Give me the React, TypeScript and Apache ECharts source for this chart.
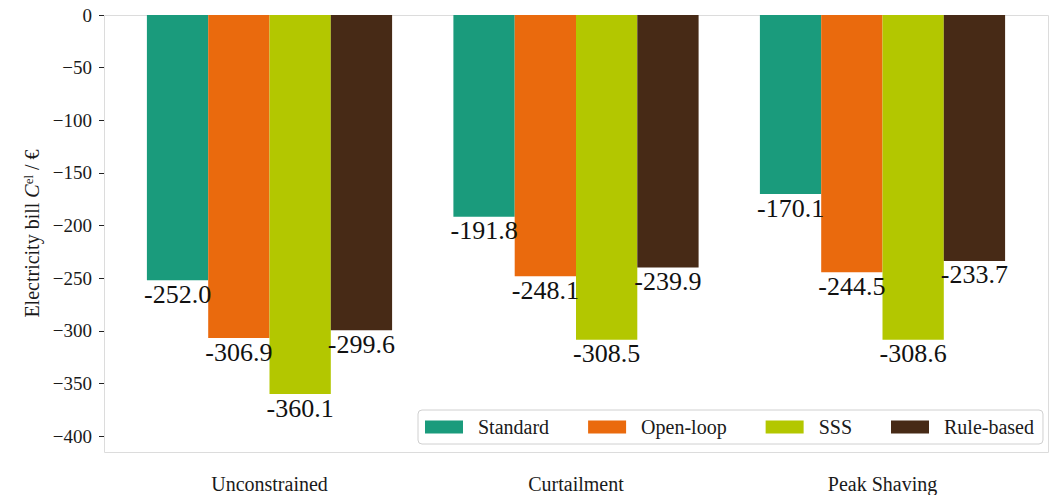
import React, { useEffect, useRef } from "react";
import * as echarts from "echarts";

// Scenarios on the x axis and the controllers compared in each one
const scenarios = ["Unconstrained", "Curtailment", "Peak Shaving"];
const controllers = ["Standard", "Open-loop", "SSS", "Rule-based"];

// Electricity bill per controller, in the scenario order above (€)
const standardBill = [-252.0, -191.8, -170.1];
const openLoopBill = [-306.9, -248.1, -244.5];
const sssBill = [-360.1, -308.5, -308.6];
const ruleBasedBill = [-299.6, -239.9, -233.7];

const yTicks = [0, -50, -100, -150, -200, -250, -300, -350, -400];

const barColors = ["#1a9b7c", "#ea6a0d", "#b3c700", "#472a16"];
const FONT = "Liberation Serif, serif";

export default function App() {
  const ref = useRef<HTMLDivElement>(null);

  useEffect(() => {
    document.body.style.margin = "0";
    if (!ref.current) return;
    const chart = echarts.init(ref.current, undefined, { renderer: "svg" });

    const seriesData = [standardBill, openLoopBill, sssBill, ruleBasedBill];

    // frame of the plotting area
    const frame = { left: 104, top: 15, right: 1048, bottom: 452 };

    chart.setOption({
      animation: false,
      backgroundColor: "#ffffff",
      textStyle: { fontFamily: FONT },
      graphic: [
        {
          type: "rect",
          z: -1,
          silent: true,
          shape: {
            x: frame.left + 0.5,
            y: frame.top + 0.5,
            width: frame.right - frame.left,
            height: frame.bottom - frame.top,
          },
          style: { fill: "none", stroke: "#dcdcdc", lineWidth: 1 },
        },
      ],
      grid: {
        left: 116.25,
        width: 919.5,
        top: frame.top,
        height: frame.bottom - frame.top,
        containLabel: false,
        outerBoundsMode: "none",
      },
      legend: {
        data: controllers,
        left: 418,
        top: 410,
        orient: "horizontal",
        icon: "rect",
        itemWidth: 38,
        itemHeight: 13,
        itemGap: 39,
        padding: [7, 9, 7, 7],
        backgroundColor: "#ffffff",
        borderColor: "#d0d0d0",
        borderWidth: 1,
        borderRadius: 4,
        textStyle: {
          fontFamily: FONT,
          fontSize: 20,
          color: "#1a1a1a",
          padding: [0, 0, 0, 10],
        },
      },
      xAxis: {
        type: "category",
        data: scenarios,
        axisLine: { show: false },
        axisTick: { show: false },
        splitLine: { show: false },
        axisLabel: {
          margin: 22,
          fontFamily: FONT,
          fontSize: 20,
          lineHeight: 20,
          color: "#1a1a1a",
        },
      },
      yAxis: {
        type: "value",
        min: -415.2,
        max: 0,
        offset: 12.25,
        name: "Electricity bill {it|C}{sup|el} / €",
        nameLocation: "middle",
        nameRotate: 90,
        nameGap: 60,
        nameTextStyle: {
          fontFamily: FONT,
          fontSize: 20,
          color: "#1a1a1a",
          rich: {
            it: { fontFamily: FONT, fontSize: 20, fontStyle: "italic", color: "#1a1a1a" },
            sup: { fontFamily: FONT, fontSize: 13, color: "#1a1a1a", verticalAlign: "top" },
          },
        },
        axisLine: { show: false },
        splitLine: { show: false },
        axisTick: {
          show: true,
          length: 5,
          customValues: yTicks,
          lineStyle: { color: "#222", width: 1 },
        },
        axisLabel: {
          customValues: yTicks,
          margin: 12,
          fontFamily: FONT,
          fontSize: 19,
          color: "#1a1a1a",
          formatter: (v: number) => (v < 0 ? "\u2212" + Math.abs(v) : String(v)),
        },
      },
      series: controllers.map((name, i) => ({
        name,
        type: "bar",
        data: seriesData[i],
        barGap: "0%",
        barCategoryGap: "20%",
        itemStyle: { color: barColors[i] },
        z: 2,
        label: {
          show: true,
          position: "bottom",
          distance: 1,
          fontFamily: FONT,
          fontSize: 26,
          color: "#111",
          formatter: (p: any) => Number(p.value).toFixed(1),
        },
      })),
    });

    return () => chart.dispose();
  }, []);

  return (
    <div
      ref={ref}
      style={{ position: "fixed", left: 0, top: 0, width: 1051, height: 495 }}
    />
  );
}
